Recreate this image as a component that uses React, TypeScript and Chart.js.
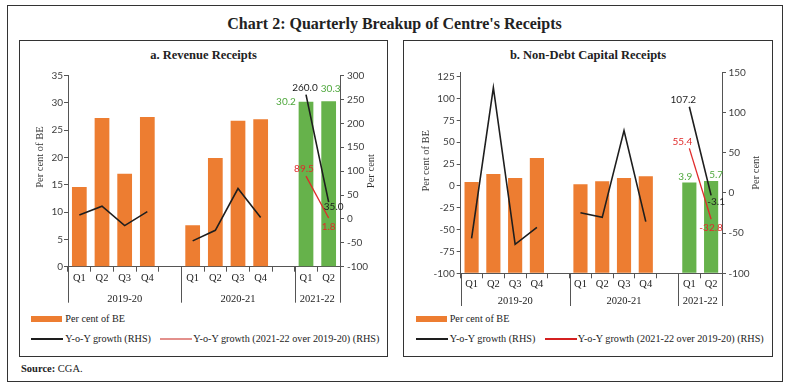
import React, { useEffect, useRef } from 'react';
import { Chart, registerables } from 'chart.js';

Chart.register(...registerables);

// ---------- data ----------
const categories = ['Q1', 'Q2', 'Q3', 'Q4', '', 'Q1', 'Q2', 'Q3', 'Q4', '', 'Q1', 'Q2'];
const groupLabels = ['2019-20', '2020-21', '2021-22'];
const groupSizes = [5, 5, 2];

// a. Revenue Receipts
const revPctBE = [14.6, 27.2, 17.0, 27.4, null, 7.6, 19.9, 26.7, 27.0, null, 30.2, 30.3];
const revYoY = [8.4, 26.6, -14.0, 15.3, null, -46.0, -23.8, 63.6, 2.8, null, 260.0, 35.0];
const revOver1920 = [null, null, null, null, null, null, null, null, null, null, 89.5, 1.8];

// b. Non-Debt Capital Receipts
const capPctBE = [4.6, 13.7, 9.1, 32.0, null, 1.9, 5.3, 9.1, 11.1, null, 3.9, 5.7];
const capYoY = [-56.5, 130.9, -64.0, -42.8, null, -24.6, -30.4, 77.4, -35.8, null, 107.2, -3.1];
const capOver1920 = [null, null, null, null, null, null, null, null, null, null, 55.4, -32.8];

const seriesNames = ['Per cent of BE', 'Y-o-Y growth (RHS)', 'Y-o-Y growth (2021-22 over 2019-20) (RHS)'];

// ---------- style ----------
const ORANGE = '#ED7D31';
const GREEN = '#66B24B';
const GREEN_TXT = '#4FA83D';
const BLACK = '#1e1e1e';
const RED = '#E02B2B';
const AXIS = '#555555';
const TICK = '#404040';
const SERIF = '"Liberation Serif", "DejaVu Serif", serif';
const SANS = 'Lato, "Liberation Sans", sans-serif';

type Num = number | null;

type Spec = {
  be: Num[];
  yoy: Num[];
  over: Num[];
  yMin: number; yMax: number; yStep: number;
  y1Min: number; y1Max: number; y1Step: number;
  leftW: number; rightW: number; xH: number; padTop: number;
  qPad: number; yPad: number; y1Pad: number;
  yearDy: number; sepLen: number;
  lTitleDx: number; lTitleDy: number; rTitleDx: number; rTitleDy: number;
  offBE: number[][]; offYoY: number[][]; offOver: number[][];
};

const lastGroupStart = groupSizes.slice(0, -1).reduce((a, b) => a + b, 0);
const labelIdx = categories.map((_, i) => i).filter((i) => i >= lastGroupStart);

function makePlugin(s: Spec) {
  return {
    id: 'decor',
    afterDraw(chart: any) {
      const ctx = chart.ctx;
      const xs = chart.scales.x;
      const ca = chart.chartArea;
      const n = categories.length;
      const half = (xs.getPixelForValue(1) - xs.getPixelForValue(0)) / 2;
      const bound = (k: number) => (k < n ? xs.getPixelForValue(k) - half : xs.getPixelForValue(n - 1) + half);
      const bounds = [0];
      let acc = 0;
      groupSizes.forEach((g) => { acc += g; bounds.push(acc); });
      ctx.save();
      // group separators
      ctx.strokeStyle = AXIS;
      ctx.lineWidth = 1;
      bounds.forEach((b) => {
        const x = Math.round(bound(b)) + 0.5;
        ctx.beginPath();
        ctx.moveTo(x, ca.bottom);
        ctx.lineTo(x, ca.bottom + s.sepLen);
        ctx.stroke();
      });
      // group labels
      ctx.font = `10.5px ${SERIF}`;
      ctx.fillStyle = '#222';
      ctx.textAlign = 'center';
      ctx.textBaseline = 'middle';
      groupLabels.forEach((g, i) => {
        const x = (bound(bounds[i]) + bound(bounds[i + 1])) / 2;
        ctx.fillText(g, x, ca.bottom + s.yearDy);
      });
      // axis titles
      const midY = (ca.top + ca.bottom) / 2;
      ctx.fillStyle = '#333';
      ctx.save();
      ctx.translate(ca.left + s.lTitleDx, midY + s.lTitleDy);
      ctx.rotate(-Math.PI / 2);
      ctx.fillText('Per cent of BE', 0, 0);
      ctx.restore();
      ctx.save();
      ctx.translate(ca.right + s.rTitleDx, midY + s.rTitleDy);
      ctx.rotate(-Math.PI / 2);
      ctx.fillText('Per cent', 0, 0);
      ctx.restore();
      // data labels
      ctx.font = `10px ${SANS}`;
      const lab = [
        { ds: 0, color: GREEN_TXT, off: s.offBE },
        { ds: 1, color: BLACK, off: s.offYoY },
        { ds: 2, color: RED, off: s.offOver },
      ];
      lab.forEach((l) => {
        const meta = chart.getDatasetMeta(l.ds);
        const data = chart.data.datasets[l.ds].data;
        labelIdx.forEach((i, j) => {
          const el = meta.data[i];
          const v = data[i];
          if (!el || v == null) return;
          ctx.fillStyle = l.color;
          ctx.fillText(Number(v).toFixed(1), el.x + l.off[j][0], el.y + l.off[j][1]);
        });
      });
      ctx.restore();
    },
  };
}

function ChartCanvas({ spec, width, height }: { spec: Spec; width: number; height: number }) {
  const ref = useRef<HTMLCanvasElement>(null);
  useEffect(() => {
    if (!ref.current) return;
    const barColors = categories.map((_, i) => (i >= lastGroupStart ? GREEN : ORANGE));
    const chart = new Chart(ref.current, {
      type: 'bar',
      data: {
        labels: categories,
        datasets: [
          {
            type: 'bar',
            label: seriesNames[0],
            data: spec.be,
            yAxisID: 'y',
            base: spec.yMin,
            backgroundColor: barColors,
            barPercentage: 0.65,
            categoryPercentage: 1,
            order: 3,
          } as any,
          {
            type: 'line',
            label: seriesNames[1],
            data: spec.yoy,
            yAxisID: 'y1',
            borderColor: BLACK,
            borderWidth: 1.6,
            pointRadius: 0,
            spanGaps: false,
            tension: 0,
            order: 2,
          },
          {
            type: 'line',
            label: seriesNames[2],
            data: spec.over,
            yAxisID: 'y1',
            borderColor: RED,
            borderWidth: 1.3,
            pointRadius: 0,
            spanGaps: false,
            tension: 0,
            order: 1,
          },
        ],
      },
      options: {
        animation: false,
        responsive: false,
        maintainAspectRatio: false,
        devicePixelRatio: 1,
        layout: { padding: { top: spec.padTop, left: 0, right: 0, bottom: 0 } },
        plugins: { legend: { display: false }, tooltip: { enabled: false }, title: { display: false } },
        scales: {
          x: {
            type: 'category',
            offset: true,
            grid: { offset: true, drawOnChartArea: false, drawTicks: true, tickLength: 5, color: AXIS },
            border: { display: true, color: AXIS },
            ticks: { font: { family: SERIF, size: 10.5 }, color: '#222', padding: spec.qPad, autoSkip: false, maxRotation: 0 },
            afterFit: (sc: any) => { sc.height = spec.xH; },
          },
          y: {
            type: 'linear',
            position: 'left',
            min: spec.yMin,
            max: spec.yMax,
            grid: { drawOnChartArea: false, drawTicks: true, tickLength: 4, color: AXIS },
            border: { display: true, color: AXIS },
            ticks: { stepSize: spec.yStep, includeBounds: false, font: { family: SANS, size: 10 }, color: TICK, padding: spec.yPad },
            afterFit: (sc: any) => { sc.width = spec.leftW; },
          },
          y1: {
            type: 'linear',
            position: 'right',
            min: spec.y1Min,
            max: spec.y1Max,
            grid: { drawOnChartArea: false, drawTicks: true, tickLength: 4, color: AXIS },
            border: { display: true, color: AXIS },
            ticks: { stepSize: spec.y1Step, includeBounds: false, font: { family: SANS, size: 10 }, color: TICK, padding: spec.y1Pad },
            afterFit: (sc: any) => { sc.width = spec.rightW; },
          },
        },
      } as any,
      plugins: [makePlugin(spec)],
    });
    return () => chart.destroy();
  }, [spec]);
  return <canvas ref={ref} width={width} height={height} style={{ width, height, display: 'block' }} />;
}

const revSpec: Spec = {
  be: revPctBE, yoy: revYoY, over: revOver1920,
  yMin: 0, yMax: 35, yStep: 5,
  y1Min: -100, y1Max: 300, y1Step: 50,
  leftW: 48, rightW: 47, xH: 45.3, padTop: 13.5,
  qPad: 0, yPad: 1, y1Pad: 3,
  yearDy: 32.3, sepLen: 36,
  lTitleDx: -28, lTitleDy: -14, rTitleDx: 31.7, rTitleDy: 0,
  offBE: [[-20, 0], [2, -12]],
  offYoY: [[-1, -7], [5, 5]],
  offOver: [[-2, -7], [0, 9]],
};

const capSpec: Spec = {
  be: capPctBE, yoy: capYoY, over: capOver1920,
  yMin: -100, yMax: 130, yStep: 25,
  y1Min: -100, y1Max: 150, y1Step: 50,
  leftW: 56.7, rightW: 50, xH: 38.7, padTop: 10.3,
  qPad: 0, yPad: 2, y1Pad: 2.5,
  yearDy: 28.4, sepLen: 32.7,
  lTitleDx: -34, lTitleDy: -12, rTitleDx: 34.7, rTitleDy: 0,
  offBE: [[-4, -6], [5, -6]],
  offYoY: [[-6, -7], [5, 6]],
  offOver: [[-7, -7], [0, 9]],
};

function Legend({ left, redSwatch }: { left: number; redSwatch: string }) {
  const txt: React.CSSProperties = {
    position: 'absolute', fontFamily: SERIF, fontSize: 10.2, lineHeight: '12px', color: '#222', whiteSpace: 'nowrap',
  };
  return (
    <>
      <div style={{ position: 'absolute', left: left + 12, top: 316, width: 31, height: 6, background: ORANGE }} />
      <div style={{ ...txt, left: left + 46, top: 313 }}>{seriesNames[0]}</div>
      <div style={{ position: 'absolute', left: left + 12, top: 338, width: 32, height: 2, background: BLACK }} />
      <div style={{ ...txt, left: left + 46, top: 333 }}>{seriesNames[1]}</div>
      <div style={{ position: 'absolute', left: left + 141, top: 338, width: 32, height: 2, background: redSwatch }} />
      <div style={{ ...txt, left: left + 174, top: 333 }}>{seriesNames[2]}</div>
    </>
  );
}

export default function App() {
  const panel: React.CSSProperties = {
    position: 'absolute', border: '1.3px solid #333', boxSizing: 'border-box', background: '#fff',
  };
  const sub: React.CSSProperties = {
    position: 'absolute', fontFamily: SERIF, fontWeight: 'bold', fontSize: 12.5, color: '#222',
    textAlign: 'center', lineHeight: '14px',
  };
  return (
    <div style={{ position: 'relative', width: 789, height: 388, background: '#fff', overflow: 'hidden' }}>
      <style>{'body{margin:0;}'}</style>
      <div style={{ position: 'absolute', left: 7, top: 5, width: 776, height: 377, border: '1.5px solid #333', boxSizing: 'border-box' }} />
      <div style={{ position: 'absolute', left: 0, width: 789, top: 14, textAlign: 'center', fontFamily: SERIF, fontWeight: 'bold', fontSize: 16, lineHeight: '20px', color: '#222' }}>
        Chart 2: Quarterly Breakup of Centre's Receipts
      </div>

      <div style={{ ...panel, left: 19, top: 40, width: 369, height: 317 }} />
      <div style={{ ...panel, left: 403, top: 40, width: 370, height: 317 }} />

      <div style={{ ...sub, left: 19, width: 369, top: 48 }}>a. Revenue Receipts</div>
      <div style={{ ...sub, left: 403, width: 370, top: 48 }}>b. Non-Debt Capital Receipts</div>

      <div style={{ position: 'absolute', left: 20, top: 62 }}>
        <ChartCanvas spec={revSpec} width={367} height={250} />
      </div>
      <div style={{ position: 'absolute', left: 404, top: 62 }}>
        <ChartCanvas spec={capSpec} width={368} height={250} />
      </div>

      <Legend left={19.3} redSwatch="#E3908C" />
      <Legend left={403.7} redSwatch="#D42020" />

      <div style={{ position: 'absolute', left: 21, top: 362, fontFamily: SERIF, fontSize: 10.5, lineHeight: '14px', color: '#222' }}>
        <b>Source:</b> CGA.
      </div>
    </div>
  );
}
